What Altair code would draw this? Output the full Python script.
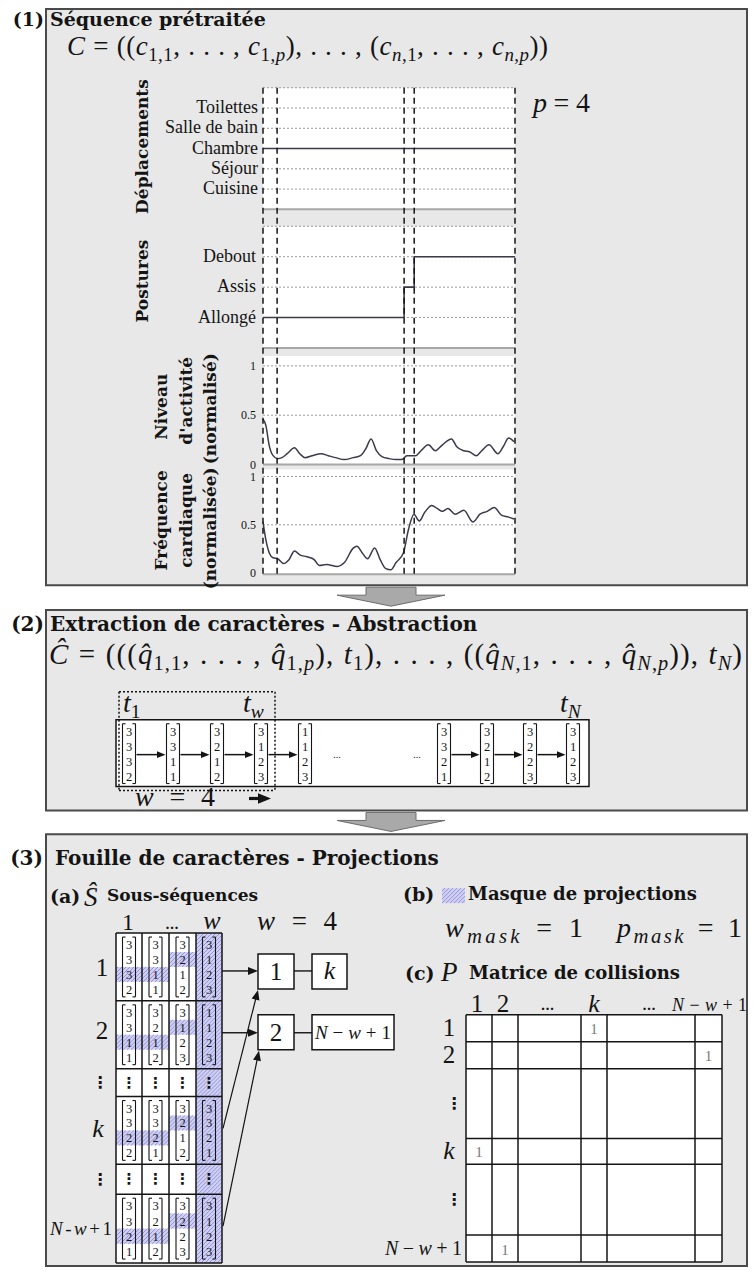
import math
import unicodedata
import altair as alt
import pandas as pd

# ======================= DATA =======================
LIEUX = ["Cuisine", "Séjour", "Chambre", "Salle de bain", "Toilettes"]
POSTURES = ["Allongé", "Assis", "Debout"]
LIEU_T = [0, 100]
LIEU_V = ["Chambre", "Chambre"]
POSTURE_T = [0, 56, 60, 100]
POSTURE_V = ["Allongé", "Assis", "Debout", "Debout"]
EVENT_T = [0, 5.6, 56, 60, 100]
NORM_TICKS = [0, 0.5, 1]
NORM_LABELS = ["0", "0.5", "1"]
NORM_GRID = [0.5, 1]

ACT_T = [0, 1.1, 2.5, 4.0, 5.8, 7.5, 9.6, 12.5, 14.6, 16.7, 19.5, 23.1, 25.9, 28.8,
         32.3, 35.8, 38.7, 40.8, 42.9, 45.0, 47.2, 50.0, 52.8, 55.0, 57.1, 60.6, 62.7,
         65.6, 68.4, 71.2, 74.8, 76.9, 79.7, 81.9, 84.7, 86.8, 89.7, 93.2, 95.3, 97.5, 99.6]
ACT_V = [0.46, 0.40, 0.19, 0.09, 0.06, 0.07, 0.11, 0.17, 0.11, 0.07, 0.09, 0.11, 0.09, 0.07,
         0.05, 0.07, 0.09, 0.16, 0.26, 0.14, 0.08, 0.06, 0.05, 0.05, 0.09, 0.09, 0.14,
         0.20, 0.14, 0.20, 0.26, 0.18, 0.14, 0.13, 0.09, 0.14, 0.20, 0.11, 0.18, 0.27, 0.23]
FC_T = [0, 1.1, 2.5, 4.0, 5.8, 8.2, 10.3, 12.5, 14.6, 17.4, 20.3, 22.4, 25.2, 29.5, 32.3,
        35.8, 37.3, 39.4, 41.5, 44.3, 46.5, 48.6, 50.7, 52.8, 55.7, 57.8, 59.9, 62.0, 64.2,
        67.0, 69.1, 71.2, 73.4, 76.2, 79.7, 83.3, 86.1, 89.0, 91.8, 94.6, 97.5, 99.6]
FC_V = [0.53, 0.35, 0.21, 0.16, 0.15, 0.10, 0.14, 0.23, 0.19, 0.17, 0.14, 0.08, 0.09, 0.07,
        0.11, 0.26, 0.28, 0.21, 0.15, 0.26, 0.14, 0.05, 0.035, 0.11, 0.21, 0.46, 0.61, 0.54,
        0.63, 0.70, 0.67, 0.64, 0.67, 0.61, 0.65, 0.53, 0.61, 0.64, 0.68, 0.60, 0.58, 0.56]

SEQ_VECTORS = [[3, 3, 3, 2], [3, 3, 1, 1], [3, 2, 1, 2], [3, 1, 2, 3], [1, 1, 2, 3],
               [3, 3, 2, 1], [3, 2, 1, 2], [3, 2, 2, 3], [3, 1, 2, 3]]
SUB_ROWS = ["1", "2", "⋮", "k", "⋮", "N-w+1"]
SUB_VECTORS = {
    "1": [[3, 3, 3, 2], [3, 3, 1, 1], [3, 2, 1, 2], [3, 1, 2, 3]],
    "2": [[3, 3, 1, 1], [3, 2, 1, 2], [3, 1, 2, 3], [1, 1, 2, 3]],
    "k": [[3, 3, 2, 2], [3, 3, 2, 1], [3, 2, 1, 2], [3, 3, 2, 1]],
    "N-w+1": [[3, 3, 2, 1], [3, 2, 1, 2], [3, 2, 2, 3], [3, 1, 2, 3]],
}
MASK_CELLS = [(0, 2), (1, 2), (2, 1)]   # (column, attribute) highlighted
MASK_COLUMN = 3
COLL_ROWS = ["1", "2", "⋮", "k", "⋮", "N−w+1"]
COLL_COLS = ["1", "2", "...", "k", "...", "N−w+1"]
COLL_ONES = [(0, 3), (1, 5), (3, 0), (5, 1)]

# ======================= LAYOUT =======================
W, H = 740, 1259
PY0, PY1 = 8, 1271
K = H / (PY1 - PY0)


def cx(p):
    return p - 8


def cy(p):
    return (p - PY0) * K


XS = alt.Scale(domain=[8, 748], range=[0, W], nice=False, zero=False)
YS = alt.Scale(domain=[PY0, PY1], range=[0, H], nice=False, zero=False)


def ex(f="x"):
    return alt.X(f + ":Q", scale=XS, axis=None)


def ey(f="y"):
    return alt.Y(f + ":Q", scale=YS, axis=None)


SERIF = "Liberation Serif"
DVS = "DejaVu Serif"
INK = "#141414"
BG = "#e8e8e8"
FRAME = "#4a4a4a"
GRID = "#9a9a9a"
LINE = "#3a3a4c"
HATCH_BG = "#d0d0f4"
HATCH_FG = "#8c8cd4"

rects, hatch_lines, solid, dotted, texts, heads = [], [], [], [], [], []


def R(x0, x1, y0, y1, fill, stroke="transparent", sw=0):
    rects.append(dict(x=x0, x2=x1, y=y0, y2=y1, fill=fill, stroke=stroke, sw=sw))


def L(x0, y0, x1, y1, color=INK, sw=1.5, kind="solid"):
    (solid if kind == "solid" else dotted).append(dict(x=x0, y=y0, x2=x1, y2=y1, color=color, sw=sw))


def T(x, y, s, size=18, font=SERIF, weight="normal", style="normal", align="left",
      baseline="middle", color=INK, angle=0):
    texts.append(dict(x=x, y=y, text=s, size=size, font=font, weight=weight, style=style,
                      align=align, baseline=baseline, color=color, angle=angle))


def HEAD(x, y, angle, scale=1.0, color=INK):
    heads.append(dict(x=x, y=y, angle=angle, size=4 * scale * scale, color=color))


def ARROW(x0, y0, x1, y1, scale=1.0, sw=1.4):
    dx, dy = x1 - x0, y1 - y0
    ln = math.hypot(dx, dy)
    ux, uy = dx / ln, dy / ln
    back = 9 * scale
    L(x0, y0, x1 - ux * back, y1 - uy * back, sw=sw)
    HEAD(x1, y1, math.degrees(math.atan2(dx, -dy)) % 360, scale)


def HATCH(x0, x1, y0, y1, step=4.0):
    R(x0, x1, y0, y1, HATCH_BG)
    c = math.ceil((x0 + y0) / step) * step
    while c < x1 + y1:
        xa, xb = max(x0, c - y1), min(x1, c - y0)
        if xb > xa:
            hatch_lines.append(dict(x=xa, y=c - xa, x2=xb, y2=c - xb, color=HATCH_FG, sw=0.9))
        c += step


def VEC(xc, yt, yb, vals, w=13, size=12.5):
    xl, xr = xc - w / 2, xc + w / 2
    for xs, d in ((xl, 1), (xr, -1)):
        L(xs, yt, xs, yb, sw=1.1)
        L(xs, yt, xs + 3 * d, yt, sw=1.1)
        L(xs, yb, xs + 3 * d, yb, sw=1.1)
    n = len(vals)
    for i, v in enumerate(vals):
        T(xc, yt + (yb - yt) * (i + 0.5) / n + 0.5, str(v), size=size, align="center")


TR = {" ": 250, "(": 333, ")": 333, ",": 250, ".": 250, "=": 564, "−": 564, "+": 564,
      "-": 333, "C": 667, "Ĉ": 667, "c": 444, "p": 500, "n": 500, "q": 500, "t": 278,
      "N": 722, "w": 722, "k": 500, "m": 778, "a": 444, "s": 389, "P": 556, "S": 556}
TI = {"C": 667, "Ĉ": 667, "c": 444, "p": 500, "n": 500, "q": 500, "t": 278, "N": 667,
      "w": 667, "k": 444, "m": 722, "a": 500, "s": 389, "P": 611, "S": 500}


def gw(tok, it):
    b = tok[0]
    if it and b in TI:
        return TI[b]
    return TR.get(b, 500)


def FORM(x, y, runs, size, target=None, align="left", sub=0.7, color=INK):
    toks = []
    for txt, st in runs:
        is_sub = st.startswith("s")
        it = st.endswith("i")
        fs = size * sub if is_sub else size
        i = 0
        while i < len(txt):
            ch = txt[i]
            i += 1
            while i < len(txt) and unicodedata.combining(txt[i]):
                ch += txt[i]
                i += 1
            toks.append((ch, is_sub, it, fs, gw(ch, it) / 1000 * fs))
    nat = sum(t[4] for t in toks)
    gaps = [2.0 if t[0] == " " else 1.0 for t in toks[:-1]] + [0.0]
    per = 0.0
    if target is not None and sum(gaps) > 0:
        per = (target - nat) / sum(gaps)
    total = nat + per * sum(gaps)
    cur = x - (total if align == "right" else total / 2 if align == "center" else 0)
    for (ch, is_sub, it, fs, w), g in zip(toks, gaps):
        if ch != " ":
            T(cur, y + (0.22 * size if is_sub else 0), ch, size=fs,
              style="italic" if it else "normal", baseline="alphabetic", color=color)
        cur += w + per * g


QH = "q\u0302"

# ---------------- panel frames & arrows between panels ----------------
R(46, 747, 9, 587, BG, FRAME, 2)
R(46, 747, 612, 813, BG, FRAME, 2)
R(46, 747, 837, 1270, BG, FRAME, 2)
BLOCK_ARROWS = pd.DataFrame({"x": [391, 391], "y": [589, 815]})

# ---------------- panel 1 ----------------
PX0, PX1 = 263, 515
for (a, b) in ((88, 210), (227, 349), (357, 466), (471, 576)):
    R(PX0, PX1, a, b, "white")
    L(PX0, b, PX1, b, color="#a8a8a8", sw=2)

T(44, 20, "(1)", 19, DVS, "bold", align="right")
T(50, 20, "Séquence prétraitée", 19, DVS, "bold")
FORM(67, 55, [("C", "i"), (" = ((", "r"), ("c", "i"), ("1,1", "sr"), (", . . . , ", "r"),
              ("c", "i"), ("1,", "sr"), ("p", "si"), ("), . . . , (", "r"), ("c", "i"),
              ("n", "si"), (",1", "sr"), (", . . . , ", "r"), ("c", "i"), ("n", "si"),
              (",", "sr"), ("p", "si"), ("))", "r")], 27, target=481)
FORM(533, 112, [("p", "i"), (" = 4", "r")], 28, target=57)

for x, y, s in ((143, 147, "Déplacements"), (143, 282, "Postures"),
                (162, 408, "Niveau"), (187, 402, "d'activité"), (211, 410, "(normalisé)"),
                (162, 522, "Fréquence"), (187, 522, "cardiaque"), (211, 530, "(normalisée)")):
    T(x, y, s, 17, DVS, "bold", align="center", angle=270)

# ---------------- panel 2 ----------------
T(44, 627, "(2)", 20, DVS, "bold", align="right")
T(50, 627, "Extraction de caractères - Abstraction", 20, DVS, "bold")
FORM(49, 666, [("Ĉ", "i"), (" = (((", "r"), (QH, "i"), ("1,1", "sr"), (", . . . , ", "r"),
               (QH, "i"), ("1,", "sr"), ("p", "si"), ("), ", "r"), ("t", "i"), ("1", "sr"),
               ("), . . . , ((", "r"), (QH, "i"), ("N", "si"), (",1", "sr"),
               (", . . . , ", "r"), (QH, "i"), ("N", "si"), (",", "sr"), ("p", "si"),
               (")), ", "r"), ("t", "i"), ("N", "si"), (")", "r")], 29, target=693)
FORM(123, 714, [("t", "i"), ("1", "sr")], 28)
FORM(243, 714, [("t", "i"), ("w", "si")], 28)
FORM(560, 714, [("t", "i"), ("N", "si")], 28)

R(116, 589, 722, 789, "white", INK, 1.5)
for (a, b, c, d) in ((119, 694, 275, 694), (119, 694, 119, 793), (275, 694, 275, 793),
                     (119, 793, 275, 793)):
    L(a, b, c, d, sw=1.5, kind="dot")
SEQ_X = [129, 173, 217, 261, 305, 444, 487, 530, 573]
for xc, vals in zip(SEQ_X, SEQ_VECTORS):
    VEC(xc, 726, 786, vals)
for i in range(len(SEQ_X) - 1):
    if i == 4:
        continue
    ARROW(SEQ_X[i] + 7.5, 757, SEQ_X[i + 1] - 7.5, 757, 0.85, sw=1.5)
T(337, 757, "...", 10, align="center")
T(417, 757, "...", 10, align="center")
FORM(135, 809, [("w", "i"), (" = 4", "r")], 28, target=80)
ARROW(249, 801, 271, 801, 1.3, sw=3.2)

# ---------------- panel 3 ----------------
T(43, 862, "(3)", 20, DVS, "bold", align="right")
T(55, 862, "Fouille de caractères - Projections", 20, DVS, "bold")

# (a)
T(50, 900, "(a)", 19, DVS, "bold")
T(84, 901, "Ŝ", 27, style="italic")
T(107, 899, "Sous-séquences", 17, DVS, "bold")
T(128, 933, "1", 24, align="center", baseline="alphabetic")
T(172, 932, "...", 13, DVS, "bold", align="center", baseline="alphabetic")
T(212, 932, "w", 26, style="italic", align="center", baseline="alphabetic")
FORM(257, 933, [("w", "i"), (" = 4", "r")], 27, target=80)

AX = [116, 142, 169, 196, 222]
AY = [936, 1004, 1072, 1100, 1168, 1198, 1267]
R(AX[0], AX[-1], AY[0], AY[-1], "white")
for r, name in enumerate(SUB_ROWS):
    if name in SUB_VECTORS:
        yt, yb = AY[r] + 4, AY[r + 1] - 4
        h = (yb - yt) / 4
        for col, slot in MASK_CELLS:
            HATCH(AX[col], AX[col + 1], yt + slot * h, yt + (slot + 1) * h)
HATCH(AX[MASK_COLUMN], AX[MASK_COLUMN + 1], AY[0], AY[-1])
for r, name in enumerate(SUB_ROWS):
    yt, yb = AY[r], AY[r + 1]
    if name in SUB_VECTORS:
        for j, vals in enumerate(SUB_VECTORS[name]):
            VEC((AX[j] + AX[j + 1]) / 2, yt + 4, yb - 4, vals)
    else:
        for j in range(4):
            T((AX[j] + AX[j + 1]) / 2, (yt + yb) / 2, "⋮", 15, "DejaVu Sans", "bold", align="center")
for xv in AX:
    L(xv, AY[0], xv, AY[-1], sw=1.5)
for yv in AY:
    L(AX[0], yv, AX[-1], yv, sw=1.5)

ROW_LABEL_Y = [971, 1034, 1086, 1133, 1184]
for name, yv in zip(SUB_ROWS[:5], ROW_LABEL_Y):
    if name == "⋮":
        T(100, yv, name, 16, "DejaVu Sans", "bold", align="center")
    elif name == "k":
        T(98, yv, name, 26, style="italic", align="center")
    else:
        T(102, yv, name, 25, align="center")
FORM(112, 1239, [("N", "i"), ("-", "r"), ("w", "i"), ("+1", "r")], 19, target=62, align="right")

# boxes
R(258, 294, 957, 992, "white", INK, 1.5)
R(312, 347, 957, 992, "white", INK, 1.5)
R(258, 294, 1018, 1053, "white", INK, 1.5)
R(312, 394, 1018, 1053, "white", INK, 1.5)
L(294, 974, 312, 974, sw=1.4)
L(294, 1036, 312, 1036, sw=1.4)
T(276, 975, "1", 25, align="center")
T(329.5, 974, "k", 26, style="italic", align="center")
T(276, 1036, "2", 25, align="center")
FORM(353, 1042, [("N", "i"), ("−", "r"), ("w", "i"), ("+1", "r")], 19, target=76, align="center")
ARROW(222, 974, 258, 974)
ARROW(222, 1036, 258, 1036)
ARROW(223, 1132, 258, 993, sw=1.2)
ARROW(223, 1230, 259, 1054, sw=1.2)

# (b)
T(403, 898, "(b)", 19, DVS, "bold")
HATCH(442, 465, 891, 906)
T(468, 898, "Masque de projections", 18, DVS, "bold")
FORM(445, 940, [("w", "i"), ("mask", "si"), (" = 1", "r")], 28, target=138, sub=0.74)
FORM(617, 940, [("p", "i"), ("mask", "si"), (" = 1", "r")], 28, target=125, sub=0.74)

# (c)
T(405, 977, "(c)", 19, DVS, "bold")
T(441, 976, "P", 27, style="italic")
T(469, 977, "Matrice de collisions", 18, DVS, "bold")
CXs = [466, 492, 518, 581, 607, 695, 722]
CYs = [1018, 1045, 1072, 1142, 1168, 1239, 1266]
R(CXs[0], CXs[-1], CYs[0], CYs[-1], "white")
for xv in CXs:
    L(xv, CYs[0], xv, CYs[-1], sw=1.5)
for yv in CYs:
    L(CXs[0], yv, CXs[-1], yv, sw=1.5)
col_c = [(CXs[i] + CXs[i + 1]) / 2 for i in range(len(CXs) - 1)]
row_c = [(CYs[i] + CYs[i + 1]) / 2 for i in range(len(CYs) - 1)]
for name, xc in zip(COLL_COLS, col_c):
    if name == "...":
        T(xc - 2, 1013, name, 13, DVS, "bold", align="center", baseline="alphabetic")
    elif name == "k":
        T(xc, 1015, name, 26, style="italic", align="center", baseline="alphabetic")
    elif name.startswith("N"):
        FORM(672, 1014, [("N", "i"), ("−", "r"), ("w", "i"), ("+1", "r")], 18, target=75)
    else:
        T(xc - 2, 1015, name, 25, align="center", baseline="alphabetic")
for name, yc in zip(COLL_ROWS, row_c):
    if name == "⋮":
        T(454, yc, name, 16, "DejaVu Sans", "bold", align="center")
    elif name == "k":
        T(449, yc, name, 26, style="italic", align="center")
    elif name.startswith("N"):
        FORM(462, yc + 6, [("N", "i"), ("−", "r"), ("w", "i"), ("+1", "r")], 20, target=77, align="right")
    else:
        T(449, yc, name, 25, align="center")
for (ri, ci) in COLL_ONES:
    T(col_c[ci], row_c[ri] + 1, "1", 15, align="center", color="#7a7a7a")

# ======================= CHART =======================
layers = []
layers.append(alt.Chart(pd.DataFrame(rects)).mark_rect().encode(
    x=ex(), x2="x2:Q", y=ey(), y2="y2:Q",
    fill=alt.Fill("fill:N", scale=None), stroke=alt.Stroke("stroke:N", scale=None),
    strokeWidth=alt.StrokeWidth("sw:Q", scale=None)))


def rule_layer(items, dash=None):
    kw = {"strokeDash": dash} if dash else {}
    return alt.Chart(pd.DataFrame(items)).mark_rule(**kw).encode(
        x=ex(), y=ey(), x2="x2:Q", y2="y2:Q",
        color=alt.Color("color:N", scale=None), strokeWidth=alt.StrokeWidth("sw:Q", scale=None))


layers.append(rule_layer(hatch_lines))

# --- subplots of panel 1, drawn through their own scales ---
TS = alt.Scale(domain=[0, 100], range=[cx(263), cx(515)], nice=False, zero=False)
LS = alt.Scale(domain=[-1, len(LIEUX)], range=[cy(210), cy(88)], nice=False, zero=False)
PS = alt.Scale(domain=[-1, len(POSTURES)], range=[cy(349), cy(227)], nice=False, zero=False)
AS = alt.Scale(domain=[0, 1], range=[cy(466), cy(367)], nice=False, zero=False)
FS = alt.Scale(domain=[0, 1], range=[cy(575), cy(478)], nice=False, zero=False)


def cat_layers(cats, scale, tt, vv, label_x):
    grid = pd.DataFrame({"level": list(range(len(cats) + 1))})
    labs = pd.DataFrame({"lab": cats, "level": list(range(len(cats)))})
    line = pd.DataFrame({"t": tt, "level": [cats.index(v) for v in vv]})
    return [
        alt.Chart(grid).mark_rule(strokeDash=[2, 2], color=GRID, strokeWidth=1).encode(
            y=alt.Y("level:Q", scale=scale, axis=None), x=alt.value(cx(PX0)), x2=alt.value(cx(PX1))),
        alt.Chart(labs).mark_text(align="right", baseline="middle", font=SERIF, fontSize=18, color=INK).encode(
            y=alt.Y("level:Q", scale=scale, axis=None), x=alt.value(cx(label_x)), text="lab:N"),
        alt.Chart(line).mark_line(interpolate="step-after", color=LINE, strokeWidth=1.6).encode(
            x=alt.X("t:Q", scale=TS, axis=None), y=alt.Y("level:Q", scale=scale, axis=None)),
    ]


def num_layers(scale, tt, vv):
    grid = pd.DataFrame({"v": NORM_GRID})
    labs = pd.DataFrame({"v": NORM_TICKS, "lab": NORM_LABELS})
    line = pd.DataFrame({"t": tt, "v": vv})
    return [
        alt.Chart(grid).mark_rule(strokeDash=[2, 2], color=GRID, strokeWidth=1).encode(
            y=alt.Y("v:Q", scale=scale, axis=None), x=alt.value(cx(PX0)), x2=alt.value(cx(PX1))),
        alt.Chart(labs).mark_text(align="right", baseline="middle", font=SERIF, fontSize=12, color=INK).encode(
            y=alt.Y("v:Q", scale=scale, axis=None), x=alt.value(cx(256)), text="lab:N"),
        alt.Chart(line).mark_line(interpolate="monotone", color=LINE, strokeWidth=1.5).encode(
            x=alt.X("t:Q", scale=TS, axis=None), y=alt.Y("v:Q", scale=scale, axis=None)),
    ]


layers += cat_layers(LIEUX, LS, LIEU_T, LIEU_V, 258)
layers += cat_layers(POSTURES, PS, POSTURE_T, POSTURE_V, 256)
layers += num_layers(AS, ACT_T, ACT_V)
layers += num_layers(FS, FC_T, FC_V)

layers.append(rule_layer(solid))
layers.append(rule_layer(dotted, dash=[2, 2]))
layers.append(alt.Chart(pd.DataFrame({"t": EVENT_T})).mark_rule(
    strokeDash=[6, 4], color=INK, strokeWidth=1.5).encode(
    x=alt.X("t:Q", scale=TS, axis=None), y=alt.value(cy(88)), y2=alt.value(cy(576))))

HEAD_PATH = "M0,0L-4,10L4,10Z"
layers.append(alt.Chart(pd.DataFrame(heads)).mark_point(
    shape=HEAD_PATH, filled=True, opacity=1, strokeWidth=0).encode(
    x=ex(), y=ey(), angle=alt.Angle("angle:Q", scale=None),
    size=alt.Size("size:Q", scale=None), color=alt.Color("color:N", scale=None)))

BLOCK_PATH = "M-25,0L25,0L25,8L54,8L0,19L-54,8L-25,8Z"
layers.append(alt.Chart(BLOCK_ARROWS).mark_point(
    shape=BLOCK_PATH, size=4, filled=True, fill="#a9a9a9", stroke="#6e6e6e",
    strokeWidth=1, opacity=1).encode(x=ex(), y=ey()))

tdf = pd.DataFrame(texts)
for key, g in tdf.groupby(["font", "weight", "style", "align", "baseline"], sort=False):
    font, weight, style, align, baseline = key
    layers.append(alt.Chart(g).mark_text(
        font=font, fontWeight=weight, fontStyle=style, align=align, baseline=baseline).encode(
        x=ex(), y=ey(), text="text:N", size=alt.Size("size:Q", scale=None),
        color=alt.Color("color:N", scale=None), angle=alt.Angle("angle:Q", scale=None)))

chart = alt.layer(*layers).resolve_scale(x="independent", y="independent").properties(
    width=W, height=H, padding=0, autosize=alt.AutoSizeParams(type="none"),
    background="white").configure_view(stroke=None)

chart.save("out.html", embed_options={"renderer": "svg", "actions": False})
